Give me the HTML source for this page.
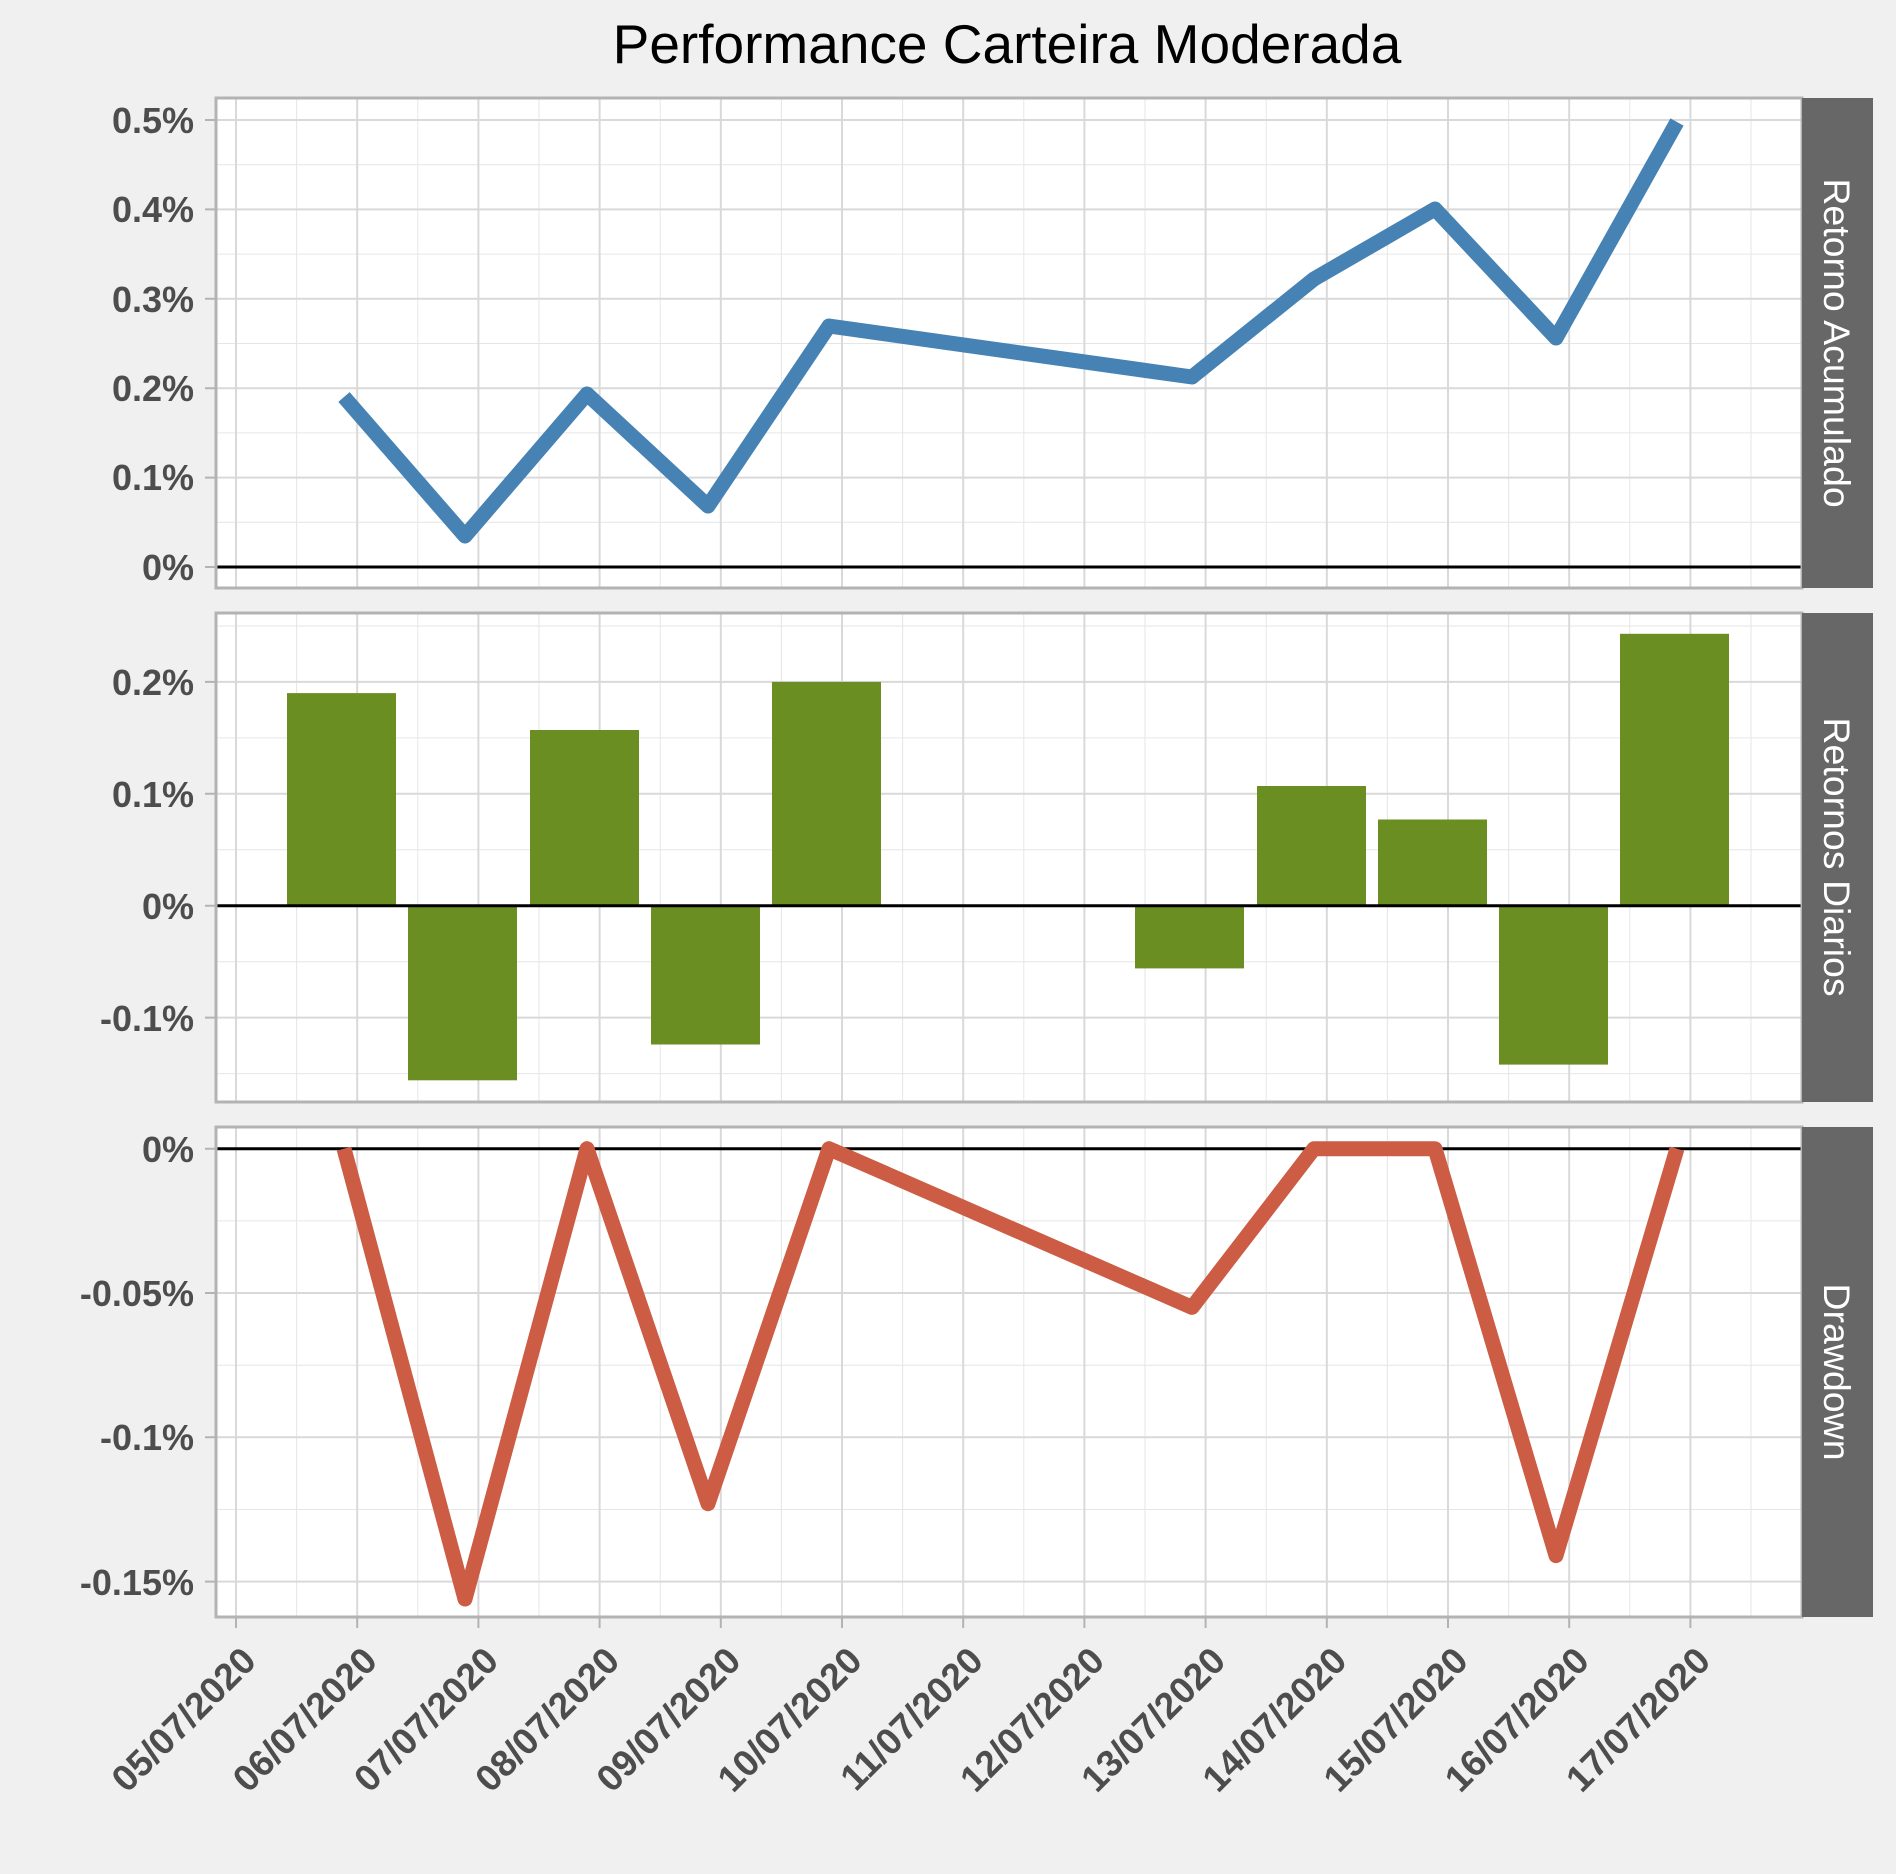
<!DOCTYPE html>
<html><head><meta charset="utf-8"><style>
html,body{margin:0;padding:0;background:#f0f0f0;}
svg{display:block;}
.yl{font-family:"Liberation Sans",sans-serif;font-weight:bold;font-size:36px;fill:#4d4d4d;text-anchor:end;}
.xl{font-family:"Liberation Sans",sans-serif;font-weight:bold;font-size:37px;fill:#4d4d4d;text-anchor:end;}
.st{font-family:"Liberation Sans",sans-serif;font-size:37.5px;fill:#ffffff;text-anchor:middle;}
.mj{stroke:#d9d9d9;stroke-width:2;}
.mn{stroke:#e6e6e6;stroke-width:1;}
</style></head><body>
<svg width="1896" height="1874" viewBox="0 0 1896 1874" xmlns="http://www.w3.org/2000/svg">
<rect width="1896" height="1874" fill="#f0f0f0"/>
<text x="1007" y="63" font-family="Liberation Sans, sans-serif" font-size="55" text-anchor="middle" fill="#000">Performance Carteira Moderada</text>

<!-- PANEL 1 -->
<rect x="216" y="98" width="1586" height="490" fill="#fff"/>
<g class="mn">
<path d="M216 522.3H1802M216 432.9H1802M216 343.5H1802M216 254.1H1802M216 164.7H1802"/>
<path d="M296.6 98V588M417.8 98V588M539 98V588M660.2 98V588M781.4 98V588M902.6 98V588M1023.8 98V588M1145 98V588M1266.2 98V588M1387.4 98V588M1508.6 98V588M1629.8 98V588M1751 98V588"/>
</g>
<g class="mj">
<path d="M216 477.6H1802M216 388.2H1802M216 298.8H1802M216 209.4H1802M216 120H1802"/>
<path d="M236 98V588M357.2 98V588M478.4 98V588M599.6 98V588M720.8 98V588M842 98V588M963.2 98V588M1084.4 98V588M1205.6 98V588M1326.8 98V588M1448 98V588M1569.2 98V588M1690.4 98V588"/>
</g>
<line x1="216" y1="567" x2="1802" y2="567" stroke="#000" stroke-width="3"/>
<polyline points="344,397 465,536 587,394 708,506 829,326 1192,377 1314,279 1435,209 1556,338 1677,122" fill="none" stroke="#4682b4" stroke-width="15" stroke-linejoin="round"/>
<rect x="216" y="98" width="1586" height="490" fill="none" stroke="#b3b3b3" stroke-width="3"/>
<g stroke="#b3b3b3" stroke-width="2"><path d="M205 567H216M205 477.6H216M205 388.2H216M205 298.8H216M205 209.4H216M205 120H216"/></g>
<text class="yl" x="194" y="580">0%</text>
<text class="yl" x="194" y="490">0.1%</text>
<text class="yl" x="194" y="401">0.2%</text>
<text class="yl" x="194" y="312">0.3%</text>
<text class="yl" x="194" y="222">0.4%</text>
<text class="yl" x="194" y="133">0.5%</text>
<rect x="1802" y="98" width="71" height="490" fill="#676767"/>
<text class="st" transform="translate(1824,343) rotate(90)">Retorno Acumulado</text>

<!-- PANEL 2 -->
<rect x="216" y="613" width="1586" height="489" fill="#fff"/>
<g class="mn">
<path d="M216 626H1802M216 737.9H1802M216 849.8H1802M216 961.7H1802M216 1073.6H1802"/>
<path d="M296.6 613V1102M417.8 613V1102M539 613V1102M660.2 613V1102M781.4 613V1102M902.6 613V1102M1023.8 613V1102M1145 613V1102M1266.2 613V1102M1387.4 613V1102M1508.6 613V1102M1629.8 613V1102M1751 613V1102"/>
</g>
<g class="mj">
<path d="M216 681.9H1802M216 793.8H1802M216 1017.6H1802"/>
<path d="M236 613V1102M357.2 613V1102M478.4 613V1102M599.6 613V1102M720.8 613V1102M842 613V1102M963.2 613V1102M1084.4 613V1102M1205.6 613V1102M1326.8 613V1102M1448 613V1102M1569.2 613V1102M1690.4 613V1102"/>
</g>
<g fill="#6b8e23">
<rect x="287" y="693.1" width="109" height="212.6"/>
<rect x="408" y="905.7" width="109" height="174.6"/>
<rect x="530" y="730" width="109" height="175.7"/>
<rect x="651" y="905.7" width="109" height="138.8"/>
<rect x="772" y="681.9" width="109" height="223.8"/>
<rect x="1135" y="905.7" width="109" height="62.7"/>
<rect x="1257" y="786" width="109" height="119.7"/>
<rect x="1378" y="819.5" width="109" height="86.2"/>
<rect x="1499" y="905.7" width="109" height="158.9"/>
<rect x="1620" y="633.8" width="109" height="271.9"/>
</g>
<line x1="216" y1="905.7" x2="1802" y2="905.7" stroke="#000" stroke-width="3"/>
<rect x="216" y="613" width="1586" height="489" fill="none" stroke="#b3b3b3" stroke-width="3"/>
<g stroke="#b3b3b3" stroke-width="2"><path d="M205 681.9H216M205 793.8H216M205 905.7H216M205 1017.6H216"/></g>
<text class="yl" x="194" y="695">0.2%</text>
<text class="yl" x="194" y="807">0.1%</text>
<text class="yl" x="194" y="919">0%</text>
<text class="yl" x="194" y="1031">-0.1%</text>
<rect x="1802" y="613" width="71" height="489" fill="#676767"/>
<text class="st" transform="translate(1824,857) rotate(90)">Retornos Diarios</text>

<!-- PANEL 3 -->
<rect x="216" y="1127" width="1586" height="490" fill="#fff"/>
<g class="mn">
<path d="M216 1220.9H1802M216 1365.2H1802M216 1509.5H1802"/>
<path d="M296.6 1127V1617M417.8 1127V1617M539 1127V1617M660.2 1127V1617M781.4 1127V1617M902.6 1127V1617M1023.8 1127V1617M1145 1127V1617M1266.2 1127V1617M1387.4 1127V1617M1508.6 1127V1617M1629.8 1127V1617M1751 1127V1617"/>
</g>
<g class="mj">
<path d="M216 1293H1802M216 1437.3H1802M216 1581.6H1802"/>
<path d="M236 1127V1617M357.2 1127V1617M478.4 1127V1617M599.6 1127V1617M720.8 1127V1617M842 1127V1617M963.2 1127V1617M1084.4 1127V1617M1205.6 1127V1617M1326.8 1127V1617M1448 1127V1617M1569.2 1127V1617M1690.4 1127V1617"/>
</g>
<line x1="216" y1="1148.7" x2="1802" y2="1148.7" stroke="#000" stroke-width="3"/>
<polyline points="344,1148.7 465,1599 587,1148.7 708,1503.7 829,1148.7 1192,1307.4 1314,1148.7 1435,1148.7 1556,1555.6 1677,1148.7" fill="none" stroke="#cd5c45" stroke-width="15" stroke-linejoin="round"/>
<rect x="216" y="1127" width="1586" height="490" fill="none" stroke="#b3b3b3" stroke-width="3"/>
<g stroke="#b3b3b3" stroke-width="2"><path d="M205 1148.7H216M205 1293H216M205 1437.3H216M205 1581.6H216"/>
<path d="M236 1617V1628M357.2 1617V1628M478.4 1617V1628M599.6 1617V1628M720.8 1617V1628M842 1617V1628M963.2 1617V1628M1084.4 1617V1628M1205.6 1617V1628M1326.8 1617V1628M1448 1617V1628M1569.2 1617V1628M1690.4 1617V1628"/></g>
<text class="yl" x="194" y="1162">0%</text>
<text class="yl" x="194" y="1306">-0.05%</text>
<text class="yl" x="194" y="1450">-0.1%</text>
<text class="yl" x="194" y="1595">-0.15%</text>
<rect x="1802" y="1127" width="71" height="490" fill="#676767"/>
<text class="st" transform="translate(1824,1372) rotate(90)">Drawdown</text>

<!-- X labels -->
<text class="xl" transform="translate(258,1663) rotate(-45)">05/07/2020</text>
<text class="xl" transform="translate(379.2,1663) rotate(-45)">06/07/2020</text>
<text class="xl" transform="translate(500.4,1663) rotate(-45)">07/07/2020</text>
<text class="xl" transform="translate(621.6,1663) rotate(-45)">08/07/2020</text>
<text class="xl" transform="translate(742.8,1663) rotate(-45)">09/07/2020</text>
<text class="xl" transform="translate(864,1663) rotate(-45)">10/07/2020</text>
<text class="xl" transform="translate(985.2,1663) rotate(-45)">11/07/2020</text>
<text class="xl" transform="translate(1106.4,1663) rotate(-45)">12/07/2020</text>
<text class="xl" transform="translate(1227.6,1663) rotate(-45)">13/07/2020</text>
<text class="xl" transform="translate(1348.8,1663) rotate(-45)">14/07/2020</text>
<text class="xl" transform="translate(1470,1663) rotate(-45)">15/07/2020</text>
<text class="xl" transform="translate(1591.2,1663) rotate(-45)">16/07/2020</text>
<text class="xl" transform="translate(1712.4,1663) rotate(-45)">17/07/2020</text>
</svg>
</body></html>
